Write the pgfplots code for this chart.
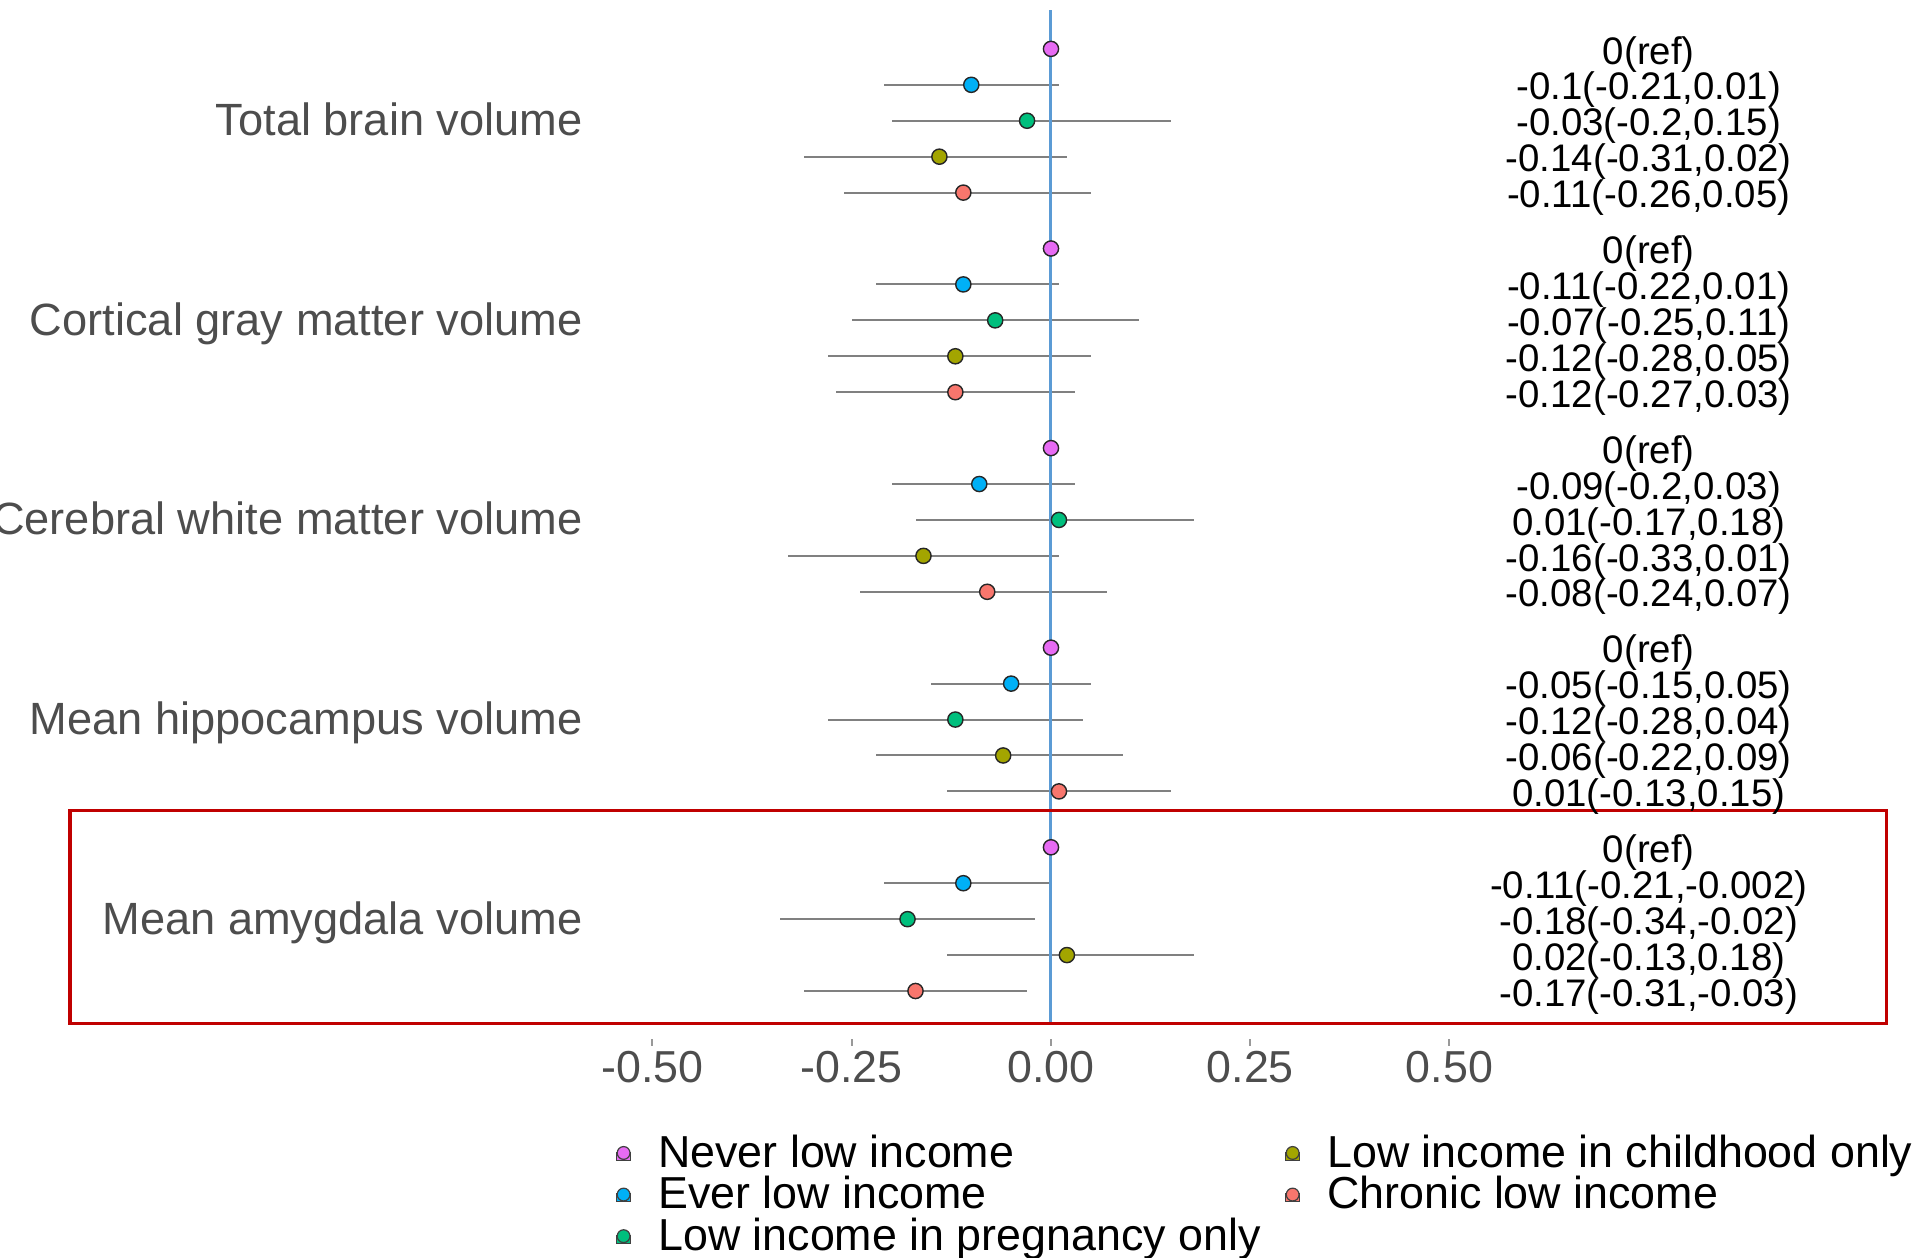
\documentclass[border=0pt]{standalone}
\usepackage{fontspec}
\setmainfont{Liberation Sans}
\usepackage{pgfplots}
\usepackage{pgfplotstable}
\pgfplotsset{compat=1.18}

\definecolor{cNever}{HTML}{E76BF3}
\definecolor{cEver}{HTML}{00B0F6}
\definecolor{cPreg}{HTML}{00BF7D}
\definecolor{cChild}{HTML}{A3A500}
\definecolor{cChronic}{HTML}{F8766D}
\definecolor{refline}{HTML}{5B9BD5}
\definecolor{boxred}{HTML}{C00000}
\definecolor{axtext}{HTML}{4D4D4D}

% g = outcome row (5 Total brain, 4 Cortical GM, 3 Cerebral WM, 2 Hippocampus, 1 Amygdala)
% est = estimate, lo/hi = 95% CI, lab = printed estimate (CI)
\pgfplotstableread{
g est lo hi lab
5 0 0 0 0(ref)
4 0 0 0 0(ref)
3 0 0 0 0(ref)
2 0 0 0 0(ref)
1 0 0 0 0(ref)
}\never
\pgfplotstableread{
g est lo hi lab
5 -0.10 -0.21 0.01 -0.1(-0.21,0.01)
4 -0.11 -0.22 0.01 -0.11(-0.22,0.01)
3 -0.09 -0.20 0.03 -0.09(-0.2,0.03)
2 -0.05 -0.15 0.05 -0.05(-0.15,0.05)
1 -0.11 -0.21 -0.002 -0.11(-0.21,-0.002)
}\ever
\pgfplotstableread{
g est lo hi lab
5 -0.03 -0.20 0.15 -0.03(-0.2,0.15)
4 -0.07 -0.25 0.11 -0.07(-0.25,0.11)
3 0.01 -0.17 0.18 0.01(-0.17,0.18)
2 -0.12 -0.28 0.04 -0.12(-0.28,0.04)
1 -0.18 -0.34 -0.02 -0.18(-0.34,-0.02)
}\preg
\pgfplotstableread{
g est lo hi lab
5 -0.14 -0.31 0.02 -0.14(-0.31,0.02)
4 -0.12 -0.28 0.05 -0.12(-0.28,0.05)
3 -0.16 -0.33 0.01 -0.16(-0.33,0.01)
2 -0.06 -0.22 0.09 -0.06(-0.22,0.09)
1 0.02 -0.13 0.18 0.02(-0.13,0.18)
}\child
\pgfplotstableread{
g est lo hi lab
5 -0.11 -0.26 0.05 -0.11(-0.26,0.05)
4 -0.12 -0.27 0.03 -0.12(-0.27,0.03)
3 -0.08 -0.24 0.07 -0.08(-0.24,0.07)
2 0.01 -0.13 0.15 0.01(-0.13,0.15)
1 -0.17 -0.31 -0.03 -0.17(-0.31,-0.03)
}\chronic

% one dodged series: whiskers + points, then the printed estimate column
\newcommand{\forestseries}[3]{%
  \addplot[forget plot, only marks, mark=*, mark size=1.9pt,
    mark options={fill=#3, draw=black!85, line width=0.35pt},
    error bars/.cd, x dir=both, x explicit, error mark=none,
    error bar style={draw=gray, line width=0.5pt}]
    table[x=est, y expr=\thisrow{g}+#2,
      x error plus expr=\thisrow{hi}-\thisrow{est},
      x error minus expr=\thisrow{est}-\thisrow{lo}] {#1};
  \addplot[forget plot, only marks, mark=none, nodes near coords,
    point meta=explicit symbolic,
    nodes near coords style={anchor=center, inner sep=0pt, text=black,
      yshift=-1.3pt, font=\fontsize{9.6}{11}\selectfont}]
    table[x expr=0.75, y expr=\thisrow{g}+#2, meta=lab] {#1};
}

\begin{document}
\begin{tikzpicture}
\begin{axis}[
  x=199.25pt, y=49.9pt,
  xmin=-0.57, xmax=1.08, ymin=0.4, ymax=5.6,
  clip=false,
  axis line style={draw=none},
  xtick={-0.5,-0.25,0,0.25,0.5},
  xticklabels={-0.50,-0.25,0.00,0.25,0.50},
  ytick={1,2,3,4,5},
  yticklabels={Mean amygdala volume, Mean hippocampus volume,
    Cerebral white matter volume, Cortical gray matter volume,
    Total brain volume},
  xtick pos=left, ytick pos=left,
  tick align=outside, major tick length=1.75pt,
  x tick style={draw=gray!80, line width=0.5pt},
  y tick style={draw=none},
  xticklabel style={font=\fontsize{11.2}{13}\selectfont, text=axtext, yshift=2.1pt},
  yticklabel style={font=\fontsize{11.3}{13}\selectfont, text=axtext,
    inner sep=0pt, xshift=-1.6pt, yshift=-0.9pt,
    text height=8pt, text depth=2.3pt},
  legend columns=2,
  legend cell align=left,
  legend image code/.code={%
    \path (-1.8pt,-1pt) rectangle (1.8pt,1pt);
    \filldraw[#1] (0pt,0.8pt) circle (1.6pt);},
  legend style={at={(axis description cs:0.02,-0.0887)}, anchor=north west,
    xshift=-1.8pt, yshift=-1.1pt, draw=none, fill=none, inner sep=0pt, outer sep=0pt,
    row sep=0pt, column sep=0pt,
    /tikz/every odd column/.append style={column sep=6.7pt},
    /tikz/every even column/.append style={column sep=6pt},
    nodes={inner sep=0pt, text height=8pt, text depth=2.4pt,
      font=\fontsize{11.2}{13}\selectfont, text=black}},
]
\forestseries{\never}{0.36}{cNever}
\forestseries{\ever}{0.18}{cEver}
\forestseries{\preg}{0}{cPreg}
\forestseries{\child}{-0.18}{cChild}
\forestseries{\chronic}{-0.36}{cChronic}

% reference line at zero
\addplot[forget plot, refline, line width=0.75pt] coordinates {(0,0.478) (0,5.555)};

% highlight around the amygdala block
\draw[boxred, line width=0.85pt] (axis cs:-1.231,0.478) rectangle (axis cs:1.048,1.544);

% legend, filled column by column
\addlegendimage{fill=cNever, draw=black!75, line width=0.3pt}
\addlegendentry{Never low income}
\addlegendimage{fill=cChild, draw=black!75, line width=0.3pt}
\addlegendentry{Low income in childhood only}
\addlegendimage{fill=cEver, draw=black!75, line width=0.3pt}
\addlegendentry{Ever low income}
\addlegendimage{fill=cChronic, draw=black!75, line width=0.3pt}
\addlegendentry{Chronic low income}
\addlegendimage{fill=cPreg, draw=black!75, line width=0.3pt}
\addlegendentry{Low income in pregnancy only}

\coordinate (bbSW) at (axis cs:-1.3187,-0.6976);
\coordinate (bbNE) at (axis cs:1.0866,5.605);
\end{axis}
\pgfresetboundingbox
\useasboundingbox (bbSW) rectangle (bbNE);
\end{tikzpicture}
\end{document}
